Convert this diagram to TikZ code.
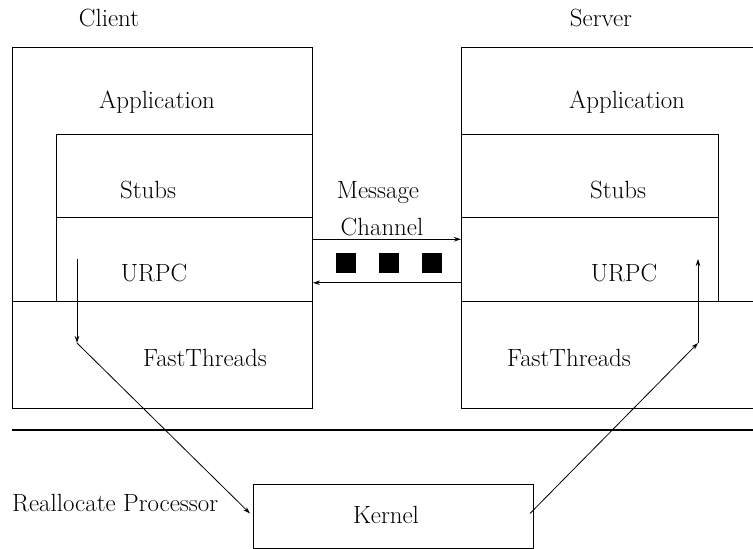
\documentclass[tikz,border=0pt]{standalone}
\usetikzlibrary{arrows.meta,calc}
\begin{document}
\begin{tikzpicture}[x=1bp,y=-1bp,
  box/.style={draw, line width=1bp, inner sep=0pt, anchor=north west},
  lbl/.style={font=\fontsize{25}{30}\selectfont, inner sep=0pt},
  arr/.style={line width=0.8bp, -{Stealth[length=7bp,width=4.5bp]}},
  sq/.style={fill=black, minimum size=20bp, inner sep=0pt}]
\useasboundingbox (0,0) rectangle (753,549);
\clip (0,0) rectangle (753,549);
% client
\node[box, minimum width=300bp, minimum height=254bp] (capp) at (12,47) {};
\node[box, minimum width=256bp, minimum height=83bp] (cstub) at (56,134) {};
\node[box, minimum width=256bp, minimum height=84bp] (curpc) at (56,217) {};
\node[box, minimum width=300bp, minimum height=107bp] (cft) at (12,301) {};
% server
\node[box, minimum width=310bp, minimum height=254bp] (sapp) at (461,47) {};
\node[box, minimum width=257bp, minimum height=83bp] (sstub) at (461,134) {};
\node[box, minimum width=257bp, minimum height=84bp] (surpc) at (461,217) {};
\node[box, minimum width=310bp, minimum height=107bp] (sft) at (461,301) {};
% kernel
\node[box, minimum width=280bp, minimum height=64bp] (kernel) at (253,484) {};
\node[lbl] (kerneltxt) at (386,515) {Kernel};
% separator
\coordinate (sepl) at (12,430);
\coordinate (sepr) at (753,430);
\draw[line width=1.5bp] (sepl) -- (sepr);
% labels
\node[lbl] (client) at (109,18) {Client};
\node[lbl] (server) at (601,18) {Server};
\node[lbl] (capptxt) at (157,102) {Application};
\node[lbl] (cstubtxt) at (148,190) {Stubs};
\node[lbl] (curpctxt) at (154,273) {URPC};
\node[lbl] (cfttxt) at (205,358) {FastThreads};
\node[lbl] (sapptxt) at (627,102) {Application};
\node[lbl] (sstubtxt) at (618,190) {Stubs};
\node[lbl] (surpctxt) at (624,273) {URPC};
\node[lbl] (sfttxt) at (569,358) {FastThreads};
\node[lbl] (msg) at (378,193) {Message};
\node[lbl] (chan) at (382,227) {Channel};
\node[lbl, anchor=west] (realloc) at (12,503) {Reallocate Processor};
% squares
\node[sq] (q1) at (346,263) {};
\node[sq] (q2) at (389,263) {};
\node[sq] (q3) at (432,263) {};
% message arrows
\draw[arr] ($(curpc.north east)!0.262!(curpc.south east)$) -- ($(surpc.north west)!0.262!(surpc.south west)$);
\draw[arr] ($(surpc.north west)!0.774!(surpc.south west)$) -- ($(curpc.north east)!0.774!(curpc.south east)$);
% processor arrows
\coordinate (ca) at (77,259);
\coordinate (cb) at (77,343);
\coordinate (sa) at (698,259);
\coordinate (sb) at (698,343);
\draw[arr] (ca) -- (cb);
\draw[arr] (cb) -- ([xshift=-3bp,yshift=3bp]kernel.west);
\draw[arr] ([xshift=-4bp,yshift=3bp]kernel.east) -- (sb);
\draw[arr] (sb) -- (sa);
\end{tikzpicture}
\end{document}
